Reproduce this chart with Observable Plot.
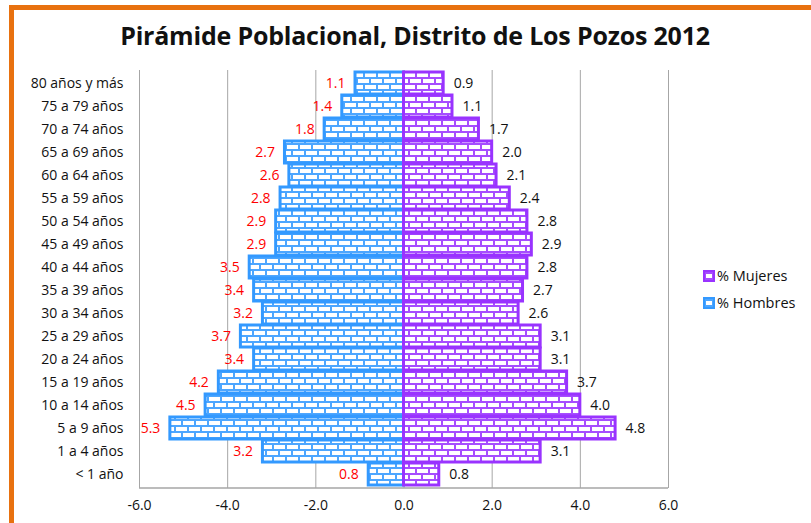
<!DOCTYPE html>
<html>
<head>
<meta charset="utf-8">
<script src="https://cdn.jsdelivr.net/npm/d3@7"></script>
<script src="https://cdn.jsdelivr.net/npm/@observablehq/plot@0.6"></script>
<style>
  html, body { margin: 0; padding: 0; background: #fff; }
  #wrap { position: relative; width: 811px; height: 523px; overflow: hidden; font-family: "Open Sans", "Noto Sans", sans-serif; }
  #frame { position: absolute; left: 9px; top: 5px; width: 810px; height: 530px; border: 5px solid #e8710f; box-sizing: border-box; }
  #title { position: absolute; left: 0; width: 830px; top: 18px; text-align: center; font-size: 25px; font-weight: 700; color: #111; letter-spacing: -0.2px; }
  #chart { position: absolute; left: 0; top: 0; }
  .leg { position: absolute; left: 703px; font-size: 14.5px; color: #111; display: flex; align-items: center; }
  .sw { width: 12px; height: 12px; margin-right: 2px; box-sizing: border-box; display: flex; align-items: center; justify-content: center; }
  .sw i { width: 6px; height: 4px; background: #fff; display: block; }
</style>
</head>
<body>
<svg width="0" height="0" style="position:absolute">
  <defs>
    <pattern id="brickBlue" patternUnits="userSpaceOnUse" width="13" height="12">
      <rect width="13" height="12" fill="#4da6ff"/>
      <rect x="1" y="1" width="11" height="4" fill="#fff"/>
      <rect x="-6" y="7" width="11" height="4" fill="#fff"/>
      <rect x="7" y="7" width="11" height="4" fill="#fff"/>
    </pattern>
    <pattern id="brickPurple" patternUnits="userSpaceOnUse" width="13" height="12">
      <rect width="13" height="12" fill="#a64dff"/>
      <rect x="1" y="1" width="11" height="4" fill="#fff"/>
      <rect x="-6" y="7" width="11" height="4" fill="#fff"/>
      <rect x="7" y="7" width="11" height="4" fill="#fff"/>
    </pattern>
  </defs>
</svg>
<div id="wrap">
  <div id="frame"></div>
  <div id="title">Pirámide Poblacional, Distrito de Los Pozos 2012</div>
  <div id="chart"></div>
  <div class="leg" style="top:266px"><div class="sw" style="background:#a64dff;border:2px solid #9933ff"><i></i></div>% Mujeres</div>
  <div class="leg" style="top:293px"><div class="sw" style="background:#4da6ff;border:2px solid #3399ff"><i></i></div>% Hombres</div>
</div>
<script>
const categories = ["80 años y más","75 a 79 años","70 a 74 años","65 a 69 años","60 a 64 años","55 a 59 años","50 a 54 años","45 a 49 años","40 a 44 años","35 a 39 años","30 a 34 años","25 a 29 años","20 a 24 años","15 a 19 años","10 a 14 años","5 a 9 años","1 a 4 años","< 1 año"];
const hombres = [1.1,1.4,1.8,2.7,2.6,2.8,2.9,2.9,3.5,3.4,3.2,3.7,3.4,4.2,4.5,5.3,3.2,0.8];
const mujeres = [0.9,1.1,1.7,2.0,2.1,2.4,2.8,2.9,2.8,2.7,2.6,3.1,3.1,3.7,4.0,4.8,3.1,0.8];
const xTicks = [-6,-4,-2,0,2,4,6];

const menRows = categories.map((c,i) => ({cat: c, v: -hombres[i], label: hombres[i].toFixed(1)}));
const womenRows = categories.map((c,i) => ({cat: c, v: mujeres[i], label: mujeres[i].toFixed(1)}));

// bottom axis line, drawn from the plot's own dimensions
function bottomLine(index, scales, values, dim) {
  const ns = "http://www.w3.org/2000/svg";
  const l = document.createElementNS(ns, "line");
  const y = dim.height - dim.marginBottom;
  l.setAttribute("x1", dim.marginLeft);
  l.setAttribute("x2", dim.width - dim.marginRight);
  l.setAttribute("y1", y);
  l.setAttribute("y2", y);
  l.setAttribute("stroke", "#a6a6a6");
  l.setAttribute("stroke-width", 1.5);
  return l;
}

const plot = Plot.plot({
  width: 811, height: 523,
  marginLeft: 139, marginRight: 143, marginTop: 70, marginBottom: 35,
  style: {fontFamily: "Open Sans, Noto Sans, sans-serif", fontSize: "14px", color: "#111", background: "transparent"},
  x: {domain: [-6, 6], ticks: xTicks, tickFormat: d => d.toFixed(1), tickSize: 0, tickPadding: 12, label: null},
  y: {domain: categories, label: null, tickSize: 0, tickPadding: 16, padding: 0.04},
  marks: [
    Plot.ruleX(xTicks, {stroke: "#a6a6a6", strokeWidth: 1}),
    bottomLine,
    Plot.barX(menRows, {x: "v", y: "cat", fill: "url(#brickBlue)", stroke: "#3399ff", strokeWidth: 3}),
    Plot.barX(womenRows, {x: "v", y: "cat", fill: "url(#brickPurple)", stroke: "#9933ff", strokeWidth: 3}),
    Plot.text(menRows, {x: "v", y: "cat", text: "label", textAnchor: "end", dx: -10, fill: "#ff0000", fontSize: 14}),
    Plot.text(womenRows, {x: "v", y: "cat", text: "label", textAnchor: "start", dx: 10, fill: "#111", fontSize: 14})
  ]
});
document.getElementById("chart").appendChild(plot);
</script>
</body>
</html>
